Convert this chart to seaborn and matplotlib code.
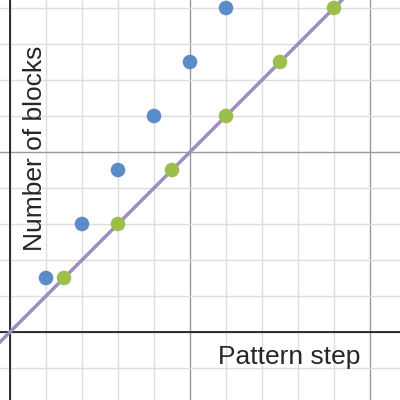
import numpy as np
import pandas as pd
import matplotlib
matplotlib.use('Agg')
import matplotlib.pyplot as plt
import seaborn as sns

# data
blue_x = [1, 2, 3, 4, 5, 6]
blue_y = [1.5, 3, 4.5, 6, 7.5, 9]
green_x = [1.5, 3, 4.5, 6, 7.5, 9]
green_y = [1.5, 3, 4.5, 6, 7.5, 9]
line_x = [-1, 11]
line_y = [-1, 11]

sns.set_style('white')
plt.rcParams['font.family'] = ['Arial', 'Liberation Sans', 'DejaVu Sans']

fig = plt.figure(figsize=(4, 4), dpi=100)
ax = fig.add_axes([0, 0, 1, 1])
xmin, xmax = -10 / 36, 390 / 36
ymin, ymax = -68 / 36, 332 / 36
ax.set_xlim(xmin, xmax)
ax.set_ylim(ymin, ymax)

for v in range(0, 11):
    major = v % 5 == 0
    ax.axvline(v, color='#999999' if major else '#dddddd', lw=1.0, zorder=0)
for v in range(-1, 10):
    major = v % 5 == 0
    ax.axhline(v, color='#999999' if major else '#dddddd', lw=1.0, zorder=0)
ax.axvline(0, color='#222222', lw=1.3, zorder=1)
ax.axhline(0, color='#222222', lw=1.3, zorder=1)

sns.lineplot(x=line_x, y=line_y, ax=ax, color='#a08cbe', lw=2.5, zorder=2)
sns.scatterplot(x=blue_x, y=blue_y, ax=ax, color='#5b8cc8', s=110, edgecolor='none', zorder=3)
sns.scatterplot(x=green_x, y=green_y, ax=ax, color='#9bbf4c', s=110, edgecolor='none', zorder=3)

ax.set_xticks([])
ax.set_yticks([])
for s in ax.spines.values():
    s.set_visible(False)

ax.text(7.75, -0.69, 'Pattern step', ha='center', va='center', fontsize=19, zorder=4)
ax.text(0.69, 5.1, 'Number of blocks', rotation=90, ha='center', va='center', fontsize=19, zorder=4)

fig.savefig('out.png', dpi=100, facecolor='white')
plt.close()
